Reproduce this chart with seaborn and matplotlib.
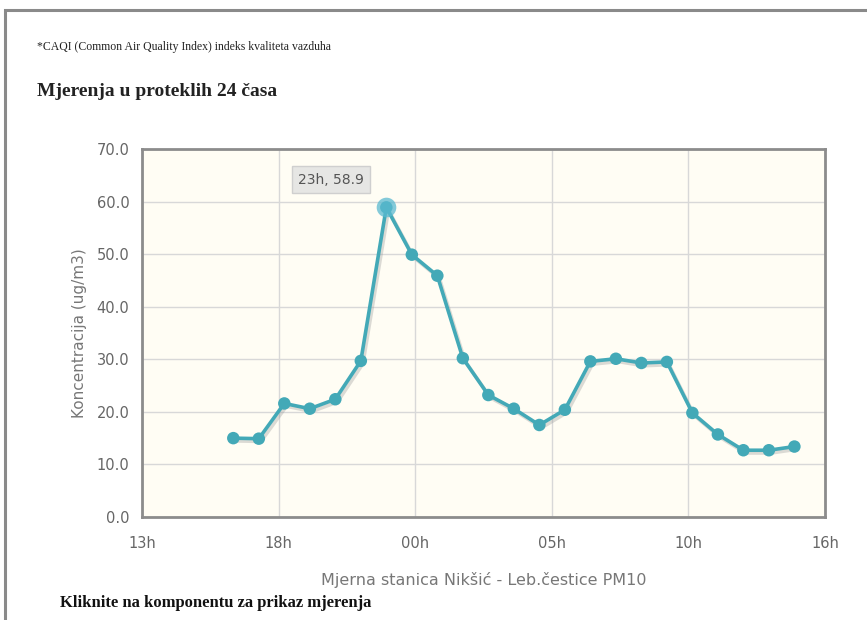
import numpy as np
import pandas as pd
import matplotlib
matplotlib.use("Agg")
import matplotlib.pyplot as plt
import matplotlib.patheffects as pe
from matplotlib.patches import Rectangle
import seaborn as sns

# hourly PM10 readings, 17h .. 15h next day
hours = [17, 18, 19, 20, 21, 22, 23, 0, 1, 2, 3, 4, 5, 6, 7, 8, 9, 10, 11, 12, 13, 14, 15]
values = [15.0, 14.9, 21.6, 20.6, 22.4, 29.7, 58.9, 49.9, 45.9, 30.2, 23.2, 20.6, 17.5,
          20.4, 29.6, 30.1, 29.3, 29.5, 19.8, 15.7, 12.7, 12.7, 13.4]
x_tick_labels = ["13h", "18h", "00h", "05h", "10h", "16h"]
y_ticks = [0, 10, 20, 30, 40, 50, 60, 70]
peak_hour = 23

# continuous time axis (hours after midnight of the first day)
t = []
day = 0
for i, h in enumerate(hours):
    if i > 0 and h < hours[i - 1]:
        day += 24
    t.append(h + day)
df = pd.DataFrame({"t": t, "val": values})

sns.set_theme(style="white")
plt.rcParams["font.family"] = ["DejaVu Sans"]
serif = ["Liberation Serif", "DejaVu Serif"]

fig = plt.figure(figsize=(8.67, 6.2), dpi=100)
fig.patch.set_facecolor("white")

# page frame
fig.add_artist(Rectangle((5 / 867, -0.05), 2, 1.05 - 10 / 620, transform=fig.transFigure,
                         fill=False, edgecolor="#8a8a8a", linewidth=2.2))

ax = fig.add_axes([142 / 867, 1 - 517 / 620, (825 - 142) / 867, (517 - 149) / 620])
ax.set_facecolor("#fffdf4")

x_min, x_max = 13.42, 40.2
line_col = "#43a9b7"

sns.lineplot(data=df, x="t", y="val", ax=ax, color=line_col, linewidth=2.6,
             marker="o", markersize=9, markeredgewidth=0, markeredgecolor=line_col,
             zorder=3)
for ln in ax.lines:
    ln.set_path_effects([pe.SimpleLineShadow(offset=(1.5, -2), shadow_color="#9a9a9a", alpha=0.35),
                         pe.Normal()])

# highlighted peak
pk = df[df["t"] == peak_hour]
ax.scatter(pk["t"], pk["val"], s=200, color="#5bbad0", alpha=0.75, zorder=4, linewidths=0)

ax.set_xlim(x_min, x_max)
ax.set_ylim(0, 70)
ax.set_xticks(np.linspace(x_min, x_max, len(x_tick_labels)))
ax.set_xticklabels(x_tick_labels)
ax.set_yticks(y_ticks)
ax.set_yticklabels([f"{v:.1f}" for v in y_ticks])
ax.grid(True, color="#d8d8d8", linewidth=1)
ax.set_axisbelow(True)
for s in ax.spines.values():
    s.set_color("#8c8c8c")
    s.set_linewidth(2)
ax.tick_params(axis="both", colors="#7a7a7a", labelsize=10.5, length=5, width=1,
               direction="out", labelcolor="#666666")
ax.tick_params(axis="x", pad=9)
ax.tick_params(axis="y", pad=4)

ax.set_xlabel("Mjerna stanica Nikšić - Leb.čestice PM10", fontsize=11.5, color="#777777", labelpad=15)
ax.set_ylabel("Koncentracija (ug/m3)", fontsize=11, color="#777777", labelpad=7)

# tooltip
ax.annotate(f"{peak_hour}h, {pk['val'].iloc[0]}", xy=(pk["t"].iloc[0], pk["val"].iloc[0]),
            xytext=(-40, 20), textcoords="offset points", fontsize=10, color="#555555",
            ha="center", va="center",
            bbox=dict(boxstyle="square,pad=0.45", facecolor="#e6e6e4", edgecolor="#cfcfcf"))

fig.text(37 / 867, 1 - 47 / 620, "*CAQI (Common Air Quality Index) indeks kvaliteta vazduha",
         fontsize=8.5, family=serif, color="#222222", va="center")
fig.text(37 / 867, 1 - 92 / 620, "Mjerenja u proteklih 24 časa",
         fontsize=14, family=serif, fontweight="bold", color="#222222", va="center")
fig.text(60 / 867, 1 - 603 / 620, "Kliknite na komponentu za prikaz mjerenja",
         fontsize=12, family=serif, fontweight="bold", color="#111111", va="center")

fig.savefig("out.png", dpi=100)
